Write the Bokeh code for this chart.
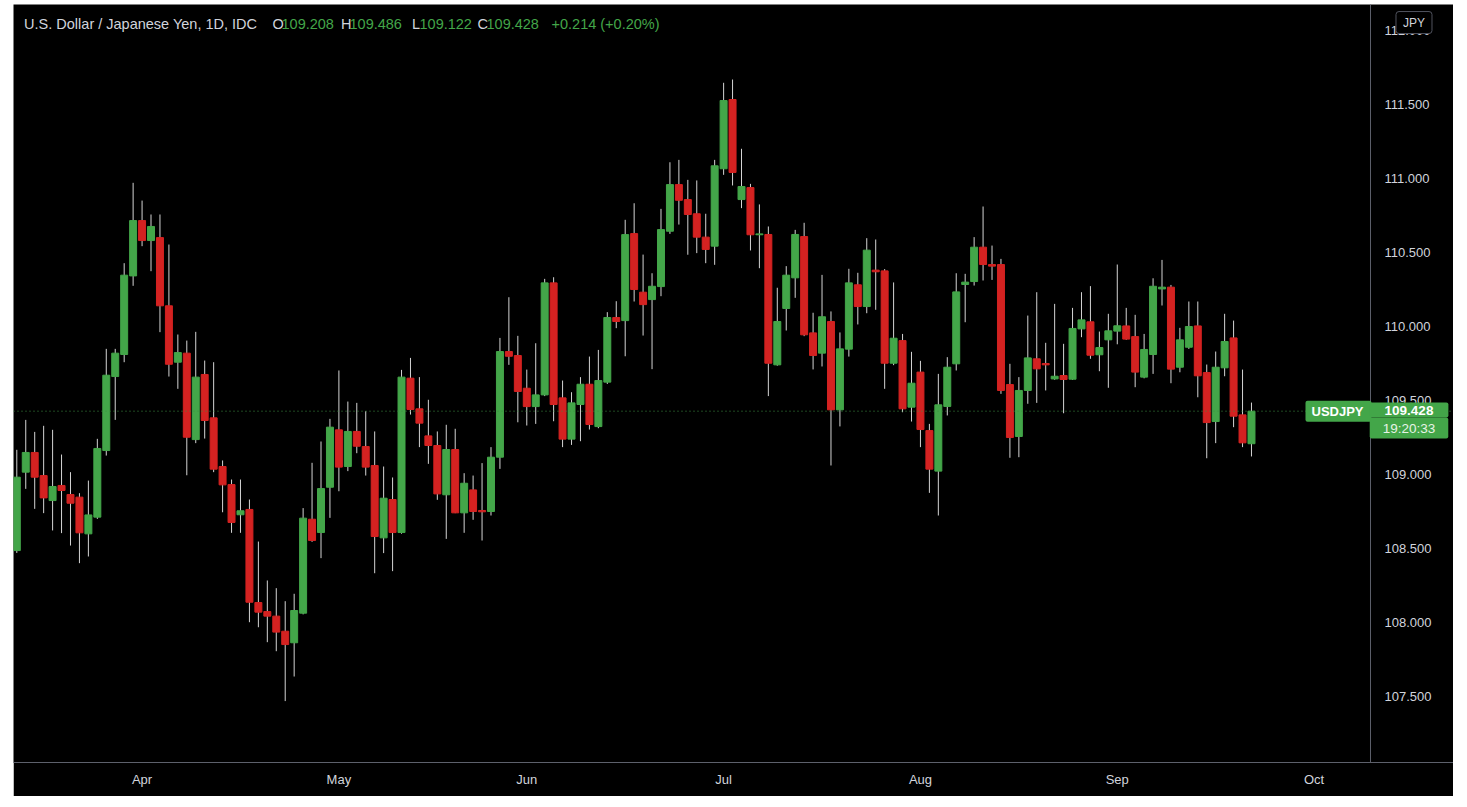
from bokeh.plotting import figure
from bokeh.models import FixedTicker, Label, Span, ColumnDataSource
from bokeh.core.properties import value
from bokeh.embed import file_html
from bokeh.resources import INLINE

# ---------------- data (USD/JPY daily, 12 Mar 2021 - 22 Sep 2021) ----------------
opens = [108.486, 109.016, 109.149, 108.993, 108.824, 108.926, 108.865, 108.847, 108.599, 108.712,
         109.162, 109.662, 109.811, 110.342, 110.716, 110.581, 110.601, 110.140, 109.759, 109.820,
         109.236, 109.676, 109.383, 109.054, 108.932, 108.728, 108.764, 108.135, 108.074, 108.043,
         107.941, 107.863, 108.063, 108.698, 108.608, 108.914, 109.302, 109.054, 109.291, 109.189,
         109.061, 108.572, 108.831, 108.608, 109.651, 109.444, 109.261, 109.196, 108.863, 109.169,
         108.741, 108.896, 108.757, 108.750, 109.117, 109.831, 109.804, 109.583, 109.459, 109.538,
         110.295, 109.518, 109.239, 109.473, 109.610, 109.324, 109.624, 110.061, 110.040, 110.628,
         110.232, 110.182, 110.270, 110.644, 110.959, 110.858, 110.762, 110.604, 110.543, 111.066,
         111.534, 110.858, 110.939, 110.620, 110.622, 109.741, 110.122, 110.329, 110.608, 109.957,
         109.820, 110.034, 109.437, 109.847, 110.282, 110.135, 110.381, 110.376, 109.752, 109.905,
         109.455, 109.692, 109.297, 109.023, 109.460, 109.748, 110.284, 110.304, 110.536, 110.419,
         110.419, 109.608, 109.257, 109.568, 109.782, 109.750, 109.646, 109.669, 109.644, 109.984,
         110.032, 109.809, 109.910, 109.969, 110.004, 109.932, 109.658, 109.811, 110.254, 110.266,
         109.725, 109.860, 110.004, 109.689, 109.358, 109.721, 109.923, 109.403, 109.208]
highs = [109.167, 109.369, 109.288, 109.329, 109.302, 109.135, 109.016, 108.874, 108.959, 109.241,
         109.849, 109.849, 110.428, 110.971, 110.851, 110.757, 110.757, 110.554, 109.946, 109.905,
         109.964, 109.770, 109.759, 109.095, 108.966, 108.966, 108.831, 108.547, 108.284, 108.232,
         108.144, 108.194, 108.773, 109.079, 109.223, 109.376, 109.703, 109.493, 109.484, 109.428,
         109.291, 109.054, 108.980, 109.707, 109.788, 109.658, 109.505, 109.291, 109.336, 109.309,
         109.009, 108.993, 109.077, 109.185, 109.923, 110.198, 109.937, 109.709, 109.887, 110.322,
         110.333, 109.635, 109.556, 109.658, 109.797, 109.842, 110.097, 110.171, 110.721, 110.833,
         110.486, 110.360, 110.795, 111.110, 111.126, 110.991, 110.987, 110.762, 111.126, 111.647,
         111.669, 111.201, 110.964, 110.825, 110.676, 110.262, 110.408, 110.653, 110.701, 110.093,
         110.349, 110.102, 109.960, 110.390, 110.363, 110.597, 110.588, 110.388, 110.298, 109.950,
         109.829, 109.768, 109.342, 109.680, 109.793, 110.360, 110.356, 110.604, 110.811, 110.547,
         110.457, 109.748, 109.658, 110.074, 110.232, 109.890, 110.153, 109.883, 110.126, 110.232,
         110.273, 109.966, 110.086, 110.419, 110.126, 110.079, 109.950, 110.326, 110.450, 110.281,
         109.991, 110.169, 110.169, 109.743, 109.831, 110.086, 110.040, 109.709, 109.486]
lows = [108.470, 108.903, 108.768, 108.739, 108.622, 108.604, 108.520, 108.401, 108.446, 108.700,
        109.128, 109.369, 109.759, 110.275, 110.543, 110.374, 109.962, 109.662, 109.579, 108.995,
        109.212, 109.243, 109.016, 108.745, 108.606, 108.606, 108.002, 107.968, 107.867, 107.806,
        107.469, 107.635, 108.055, 108.545, 108.435, 108.707, 108.887, 109.023, 109.144, 108.993,
        108.333, 108.469, 108.347, 108.600, 109.405, 109.185, 109.072, 108.829, 108.565, 108.739,
        108.606, 108.694, 108.554, 108.723, 109.038, 109.741, 109.353, 109.331, 109.342, 109.530,
        109.360, 109.185, 109.200, 109.225, 109.304, 109.313, 109.612, 109.989, 109.799, 110.169,
        109.939, 109.712, 110.205, 110.626, 110.689, 110.485, 110.496, 110.428, 110.417, 111.025,
        110.953, 110.800, 110.514, 110.394, 109.530, 109.735, 109.973, 110.194, 109.935, 109.710,
        109.730, 109.061, 109.325, 109.797, 110.014, 110.090, 110.113, 109.579, 109.739, 109.421,
        109.358, 109.185, 108.876, 108.723, 109.399, 109.703, 110.029, 110.277, 110.311, 110.315,
        109.545, 109.113, 109.117, 109.478, 109.484, 109.568, 109.640, 109.414, 109.640, 109.928,
        109.782, 109.698, 109.586, 109.880, 109.910, 109.590, 109.650, 109.680, 110.142, 109.617,
        109.691, 109.849, 109.522, 109.110, 109.212, 109.664, 109.320, 109.185, 109.122]
closes = [108.982, 109.149, 108.982, 108.842, 108.919, 108.892, 108.806, 108.606, 108.727, 109.176,
          109.671, 109.820, 110.347, 110.716, 110.581, 110.676, 110.140, 109.745, 109.824, 109.252,
          109.658, 109.365, 109.036, 108.930, 108.676, 108.755, 108.137, 108.070, 108.043, 107.935,
          107.851, 108.081, 108.705, 108.554, 108.905, 109.320, 109.050, 109.291, 109.191, 109.050,
          108.581, 108.840, 108.608, 109.658, 109.439, 109.347, 109.196, 108.869, 109.169, 108.741,
          108.941, 108.750, 108.748, 109.117, 109.831, 109.799, 109.561, 109.459, 109.538, 110.295,
          109.473, 109.239, 109.484, 109.610, 109.338, 109.635, 110.061, 110.034, 110.621, 110.250,
          110.148, 110.272, 110.655, 110.959, 110.853, 110.757, 110.604, 110.521, 111.086, 111.527,
          111.041, 110.946, 110.620, 110.626, 109.752, 110.034, 110.347, 110.622, 109.944, 109.804,
          110.066, 109.437, 109.849, 110.295, 110.135, 110.516, 110.370, 109.752, 109.921, 109.444,
          109.617, 109.304, 109.036, 109.471, 109.725, 110.234, 110.300, 110.536, 110.419, 110.408,
          109.568, 109.250, 109.568, 109.788, 109.714, 109.741, 109.664, 109.642, 109.987, 110.045,
          109.806, 109.858, 109.971, 110.005, 109.915, 109.692, 109.845, 110.272, 110.266, 109.712,
          109.910, 110.000, 109.667, 109.351, 109.725, 109.899, 109.394, 109.214, 109.428]

month_labels = ["Apr", "May", "Jun", "Jul", "Aug", "Sep", "Oct"]
month_bar_index = [14, 36, 57, 79, 101, 123, 145]   # bar index of first trading day
price_ticks = [107.5, 108.0, 108.5, 109.0, 109.5, 110.0, 110.5, 111.0, 111.5, 112.0]

symbol = "USDJPY"
title_text = "U.S. Dollar / Japanese Yen, 1D, IDC"
countdown = "19:20:33"
currency = "JPY"

# ---------------- styling ----------------
GREEN = "#43a649"
RED = "#d42221"
WICK = "#d4d4d4"
TXT = "#d1d4dc"
AXIS_LINE = "#5d606b"
FONT = "Liberation Sans"

# page-pixel -> data helpers (used only to place texts and the price-scale divider)
def px_x(px):
    return (px - 16.3) / 8.947

def px_y(py):
    return 111.5 - (py - 104) / 148.0

idx = list(range(len(opens)))
body_top = [max(o, c) for o, c in zip(opens, closes)]
body_bot = [min(o, c) for o, c in zip(opens, closes)]
colors = [GREEN if c >= o else RED for o, c in zip(opens, closes)]
src = ColumnDataSource(dict(x=idx, o=opens, h=highs, l=lows, c=closes,
                            top=body_top, bot=body_bot, color=colors))

p = figure(width=1440, height=792, x_range=(-0.37, 160.58), y_range=(107.054, 112.176),
           y_axis_location=None, toolbar_location=None, output_backend="svg",
           background_fill_color="black", border_fill_color="black",
           min_border_left=0, min_border_top=0, min_border_right=0, min_border_bottom=34,
           outline_line_color=None)
p.margin = (4, 0, 0, 13)
p.grid.visible = False

p.segment(x0="x", y0="l", x1="x", y1="h", source=src, line_color=WICK, line_width=1)
p.vbar(x="x", width=0.78, top="top", bottom="bot", source=src,
       fill_color="color", line_color="color", line_width=1)

# time axis
p.xaxis.ticker = FixedTicker(ticks=month_bar_index)
p.xaxis.major_label_overrides = {i: m for i, m in zip(month_bar_index, month_labels)}
p.xaxis.axis_line_color = AXIS_LINE
p.xaxis.major_tick_line_color = None
p.xaxis.minor_tick_line_color = None
p.xaxis.major_tick_out = 0
p.xaxis.major_tick_in = 0
p.xaxis.minor_tick_out = 0
p.xaxis.major_label_text_color = TXT
p.xaxis.major_label_text_font = FONT
p.xaxis.major_label_text_font_size = "13px"
p.xaxis.major_label_standoff = 9

# price scale (drawn at the right of the pane, TradingView style)
p.add_layout(Span(location=px_x(1370), dimension="height", line_color=AXIS_LINE, line_width=1))
price_src = ColumnDataSource(dict(x=[px_x(1384)] * len(price_ticks), y=price_ticks,
                                  t=[f"{v:.3f}" for v in price_ticks]))
p.text(x="x", y="y", text="t", source=price_src, text_color=TXT,
       text_font=value(FONT), text_font_size="13px",
       text_baseline="middle", text_align="left")

last_close = closes[-1]
p.add_layout(Span(location=last_close, dimension="width", line_color="#3b8f43",
                  line_dash="1 3", line_width=1))

# header legend
def hdr(px, text, color):
    p.add_layout(Label(x=px_x(px), y=px_y(23), text=text, text_color=color,
                       text_font=FONT, text_font_size="14.5px", text_baseline="middle",
                       text_align="left"))

chg = closes[-1] - closes[-2]
pct = chg / closes[-2] * 100
hdr(23.6, title_text, TXT)
hdr(272, "O", TXT); hdr(281, f"{opens[-1]:.3f}", GREEN)
hdr(340.5, "H", TXT); hdr(349, f"{highs[-1]:.3f}", GREEN)
hdr(411.5, "L", TXT); hdr(419, f"{lows[-1]:.3f}", GREEN)
hdr(477, "C", TXT); hdr(486, f"{closes[-1]:.3f}", GREEN)
hdr(551, f"{chg:+.3f} ({pct:+.2f}%)", GREEN)

# symbol tag on price line
p.add_layout(Label(x=px_x(1305), y=last_close, text=symbol, text_color="white",
                   text_font=FONT, text_font_size="13px", text_font_style="bold",
                   text_baseline="middle", text_align="left",
                   background_fill_color=GREEN, border_radius=2,
                   padding=dict(left=6, right=8, top=3, bottom=3)))
# price / countdown tag on the price scale
p.add_layout(Label(x=px_x(1408.5), y=px_y(409.5), text=f"{last_close:.3f}",
                   text_color="white", text_font=FONT, text_font_size="13.5px",
                   text_font_style="bold", text_baseline="middle", text_align="center",
                   background_fill_color=GREEN, border_radius=2,
                   padding=dict(left=15, right=15, top=3, bottom=3)))
p.add_layout(Label(x=px_x(1408.5), y=px_y(427.5), text=countdown,
                   text_color="#e6f3e6", text_font=FONT, text_font_size="13.5px",
                   text_baseline="middle", text_align="center",
                   background_fill_color=GREEN, border_radius=2,
                   padding=dict(left=13, right=13, top=3, bottom=3)))
# currency badge
p.add_layout(Label(x=px_x(1413.5), y=px_y(22), text=currency, text_color=TXT,
                   text_font=FONT, text_font_size="12px", text_baseline="middle",
                   text_align="center", background_fill_color="black",
                   border_line_color="#50535e", border_radius=3,
                   padding=dict(left=7, right=7, top=4, bottom=4)))

html = file_html(p, INLINE, title="USD/JPY")
html = html.replace("<body>", '<body style="background-color:#1e222d;">', 1)
open("out.html", "w").write(html)
